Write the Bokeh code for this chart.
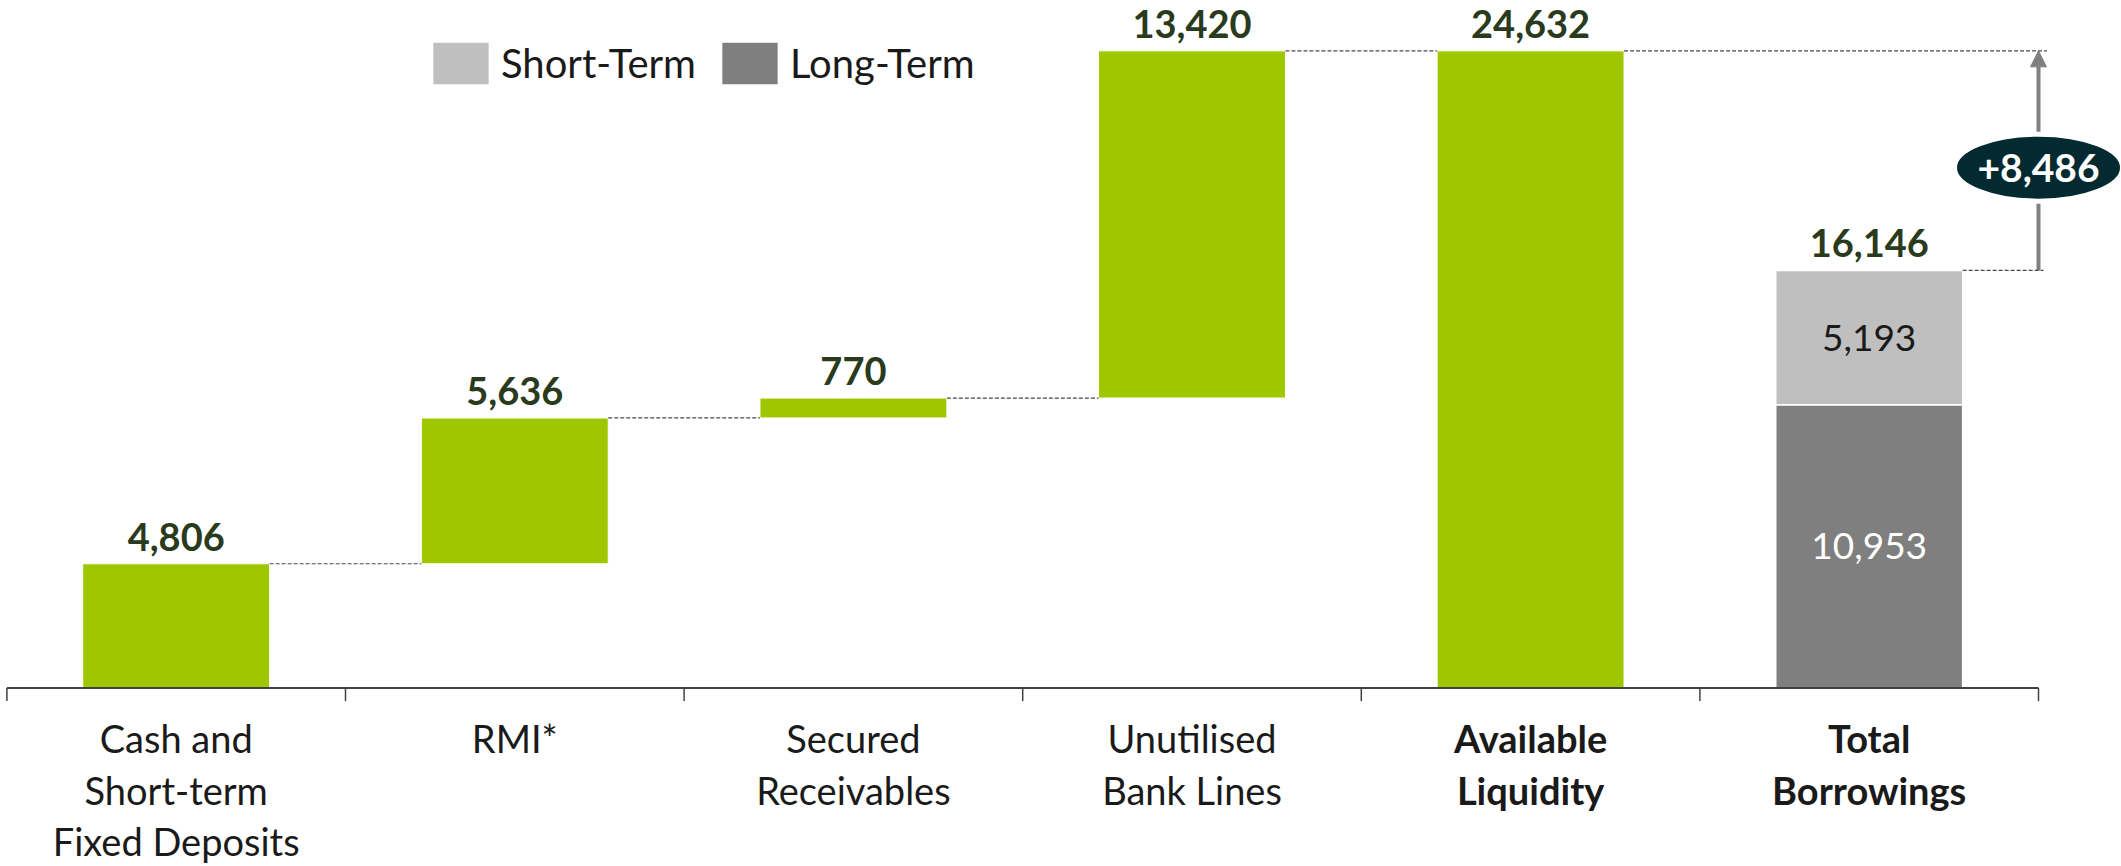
from bokeh.plotting import figure
from bokeh.models import Range1d, Arrow, NormalHead, Legend, LegendItem, ColumnDataSource
from bokeh.core.properties import value
from bokeh.embed import file_html
from bokeh.resources import INLINE

# ---------------- data ----------------
categories = ["Cash and\nShort-term\nFixed Deposits", "RMI*", "Secured\nReceivables",
              "Unutilised\nBank Lines", "Available\nLiquidity", "Total\nBorrowings"]
category_bold = [False, False, False, False, True, True]
liquidity_steps = [4806, 5636, 770, 13420]
available_liquidity = 24632
long_term = 10953
short_term = 5193
total_borrowings = 16146
legend_labels = ["Short-Term", "Long-Term"]

# ---------------- styling / layout constants ----------------
W, H = 2121, 866
PX_PER_UNIT = 0.02587
AXIS_PX = 687.6          # canvas y of the zero line
CAT_PX = 338.6           # pixels per category
LEFT_PX = 6.4            # canvas x of the first category boundary
BAR_W = 0.552
GREEN = "#9FC700"
LIGHT = "#BFBFBF"
DARK = "#7F7F7F"
LABEL_COL = "#2A3A1C"
TEXT_COL = "#1A1A1A"
FONT = value("Lato")
BADGE_DROP_PX = 7        # badge sits slightly below the arrow midpoint

x0 = -LEFT_PX / CAT_PX
p = figure(width=W, height=H,
           x_range=Range1d(x0, x0 + W / CAT_PX),
           y_range=Range1d(-(H - AXIS_PX) / PX_PER_UNIT, AXIS_PX / PX_PER_UNIT),
           x_axis_type=None, y_axis_type=None,
           toolbar_location=None, output_backend="svg",
           min_border=0, outline_line_color=None)
p.background_fill_color = "white"

centers = [i + 0.5 for i in range(len(categories))]

# waterfall bars
bottoms, tops = [], []
run = 0
for v in liquidity_steps:
    bottoms.append(run)
    run += v
    tops.append(run)
bottoms.append(0)
tops.append(available_liquidity)
green_src = ColumnDataSource(dict(x=centers[:5], bottom=bottoms, top=tops))
p.vbar(x="x", bottom="bottom", top="top", width=BAR_W, source=green_src,
       fill_color=GREEN, line_color="white", line_width=1)

# stacked borrowings bar
r_long = p.vbar(x=[centers[5]], bottom=[0], top=[long_term], width=BAR_W,
                fill_color=DARK, line_color="white", line_width=1.5)
r_short = p.vbar(x=[centers[5]], bottom=[long_term], top=[long_term + short_term], width=BAR_W,
                 fill_color=LIGHT, line_color="white", line_width=1.5)

# dashed connectors
arrow_x = float(len(categories))
cx0, cx1, cy = [], [], []
for i in range(4):
    cx0.append(centers[i] + BAR_W / 2)
    cx1.append(centers[i + 1] - BAR_W / 2)
    cy.append(tops[i])
cx0 += [centers[4] + BAR_W / 2, centers[5] + BAR_W / 2]
cx1 += [arrow_x + 0.025, arrow_x + 0.015]
cy += [available_liquidity, total_borrowings]
p.segment(x0=cx0, y0=cy, x1=cx1, y1=cy, line_color="#4A4A4A", line_width=1.2, line_dash="4 2")

# axis line and ticks at category boundaries
tick_len = 13 / PX_PER_UNIT
p.segment(x0=[0], y0=[0], x1=[arrow_x], y1=[0], line_color="#404040", line_width=2)
bounds = list(range(len(categories) + 1))
p.segment(x0=bounds, y0=[0] * len(bounds), x1=bounds, y1=[-tick_len] * len(bounds),
          line_color="#404040", line_width=1.5)

# category labels
for bold in (False, True):
    xs = [c for c, b in zip(centers, category_bold) if b == bold]
    ts = [t for t, b in zip(categories, category_bold) if b == bold]
    p.text(x=xs, y=[0] * len(xs), text=ts, text_font=FONT, text_font_size="38px",
           text_font_style="bold" if bold else "normal", text_color=TEXT_COL,
           text_align="center", text_baseline="top", text_line_height=1.12, y_offset=27)

# value labels above bars
val_x = centers[:5] + [centers[5]]
val_y = tops + [total_borrowings]
val_t = [f"{v:,}" for v in liquidity_steps + [available_liquidity, total_borrowings]]
p.text(x=val_x, y=val_y, text=val_t, text_font=FONT, text_font_size="38px",
       text_font_style="bold", text_color=LABEL_COL, text_align="center",
       text_baseline="alphabetic", y_offset=-27)

# segment labels
p.text(x=[centers[5]], y=[long_term + short_term / 2], text=[f"{short_term:,}"], text_font=FONT,
       text_font_size="37px", text_color=TEXT_COL, text_align="center", text_baseline="middle")
p.text(x=[centers[5]], y=[long_term / 2], text=[f"{long_term:,}"], text_font=FONT,
       text_font_size="37px", text_color="white", text_align="center", text_baseline="middle")

# difference arrow with ellipse badge
diff = available_liquidity - total_borrowings
arrow = Arrow(end=NormalHead(size=16, fill_color="#808080", line_color="#808080"),
              x_start=arrow_x, y_start=total_borrowings, x_end=arrow_x, y_end=available_liquidity,
              line_color="#808080", line_width=4, level="underlay")
p.add_layout(arrow)
mid = (available_liquidity + total_borrowings) / 2 - BADGE_DROP_PX / PX_PER_UNIT
p.ellipse(x=[arrow_x], y=[mid], width=168 / CAT_PX, height=67 / PX_PER_UNIT,
          fill_color="#022A30", line_color="white", line_width=5)
p.text(x=[arrow_x], y=[mid], text=[f"+{diff:,}"], text_font=FONT, text_font_size="39px",
       text_font_style="bold", text_color="white", text_align="center", text_baseline="middle")

# legend
legend = Legend(items=[LegendItem(label=legend_labels[0], renderers=[r_short]),
                       LegendItem(label=legend_labels[1], renderers=[r_long])],
                orientation="horizontal", location=(425, H - 35.6 - 54),
                glyph_width=71, glyph_height=54, label_standoff=5, spacing=18,
                padding=0, margin=0, border_line_alpha=0, background_fill_alpha=0,
                label_text_font="Lato", label_text_font_size="40px",
                label_text_color=TEXT_COL, label_text_baseline="middle")
p.add_layout(legend)

open("out.html", "w").write(file_html(p, INLINE))
